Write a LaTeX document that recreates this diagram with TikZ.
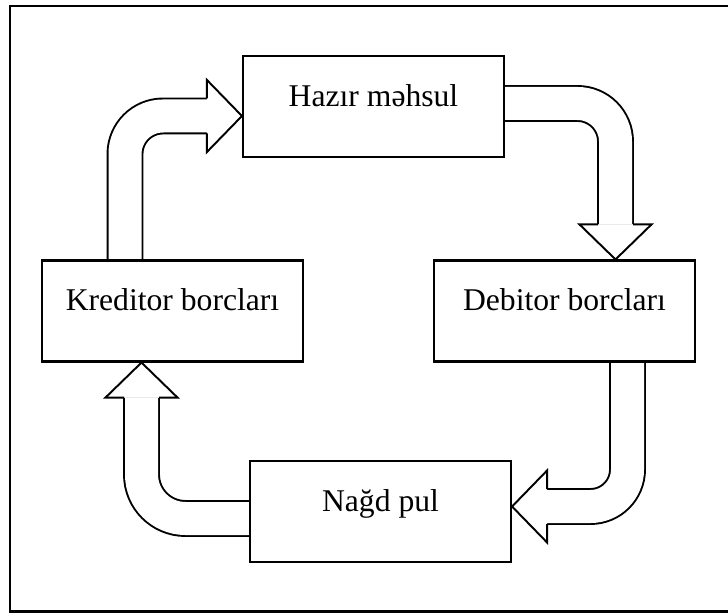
\documentclass[tikz,border=0pt]{standalone}
\usepackage{fontspec}
\setmainfont{Liberation Serif}
\usetikzlibrary{calc,backgrounds}
\tikzset{
  box/.style={draw, line width=1.2pt, minimum width=5.22cm, inner sep=0pt,
    text height=1.01cm, text depth=1.01cm, font=\fontsize{18}{20}\selectfont},
  flow/.style={double=white, double distance=0.66cm, line width=1.1pt},
  pics/flowhead/.style={code={
    \filldraw[fill=white, line width=1.1pt] (-0.70,0.35) -- (-0.70,0.72) -- (0,0) -- (-0.70,-0.72) -- (-0.70,-0.35);}}
}

\begin{document}
\begin{tikzpicture}
    \useasboundingbox (0,0) rectangle (14.56,12.24);
    \draw[line width=1.3pt] (14.8,12.12) -- (0.2,12.12) -- (0.2,0.01) -- (14.8,0.01);

    \node[box] at (7.47,10.11) (hazir) {Hazır məhsul};
    \node[box] at (3.45,6.02) (kred) {Kreditor borcları};
    \node[box] at (11.29,6.02) (debit) {Debitor borcları};
    \node[box] at (7.61,2.01) (nagd) {Nağd pul};

    \begin{scope}[on background layer]
    % kreditor -> hazir
    \draw[flow, rounded corners=0.76cm] ($(kred.north)+(-0.95,0)$) |- ($(hazir.west)+(-0.70,-0.19)$);
    \pic at ($(hazir.west)+(0,-0.19)$) {flowhead};
    % hazir -> debitor
    \draw[flow, rounded corners=0.76cm] ($(hazir.east)+(0,0.06)$) -| ($(debit.north)+(1.02,0.70)$);
    \pic[rotate=-90] at ($(debit.north)+(1.02,0)$) {flowhead};
    % debitor -> nagd
    \draw[flow, rounded corners=0.74cm] ($(debit.south)+(1.26,0)$) |- ($(nagd.east)+(0.70,0.10)$);
    \pic[rotate=180] at ($(nagd.east)+(0,0.10)$) {flowhead};
    % nagd -> kreditor
    \draw[flow, rounded corners=0.88cm] ($(nagd.west)+(0,-0.14)$) -| ($(kred.south)+(-0.62,-0.70)$);
    \pic[rotate=90] at ($(kred.south)+(-0.62,0)$) {flowhead};
    \end{scope}
\end{tikzpicture}
\end{document}
